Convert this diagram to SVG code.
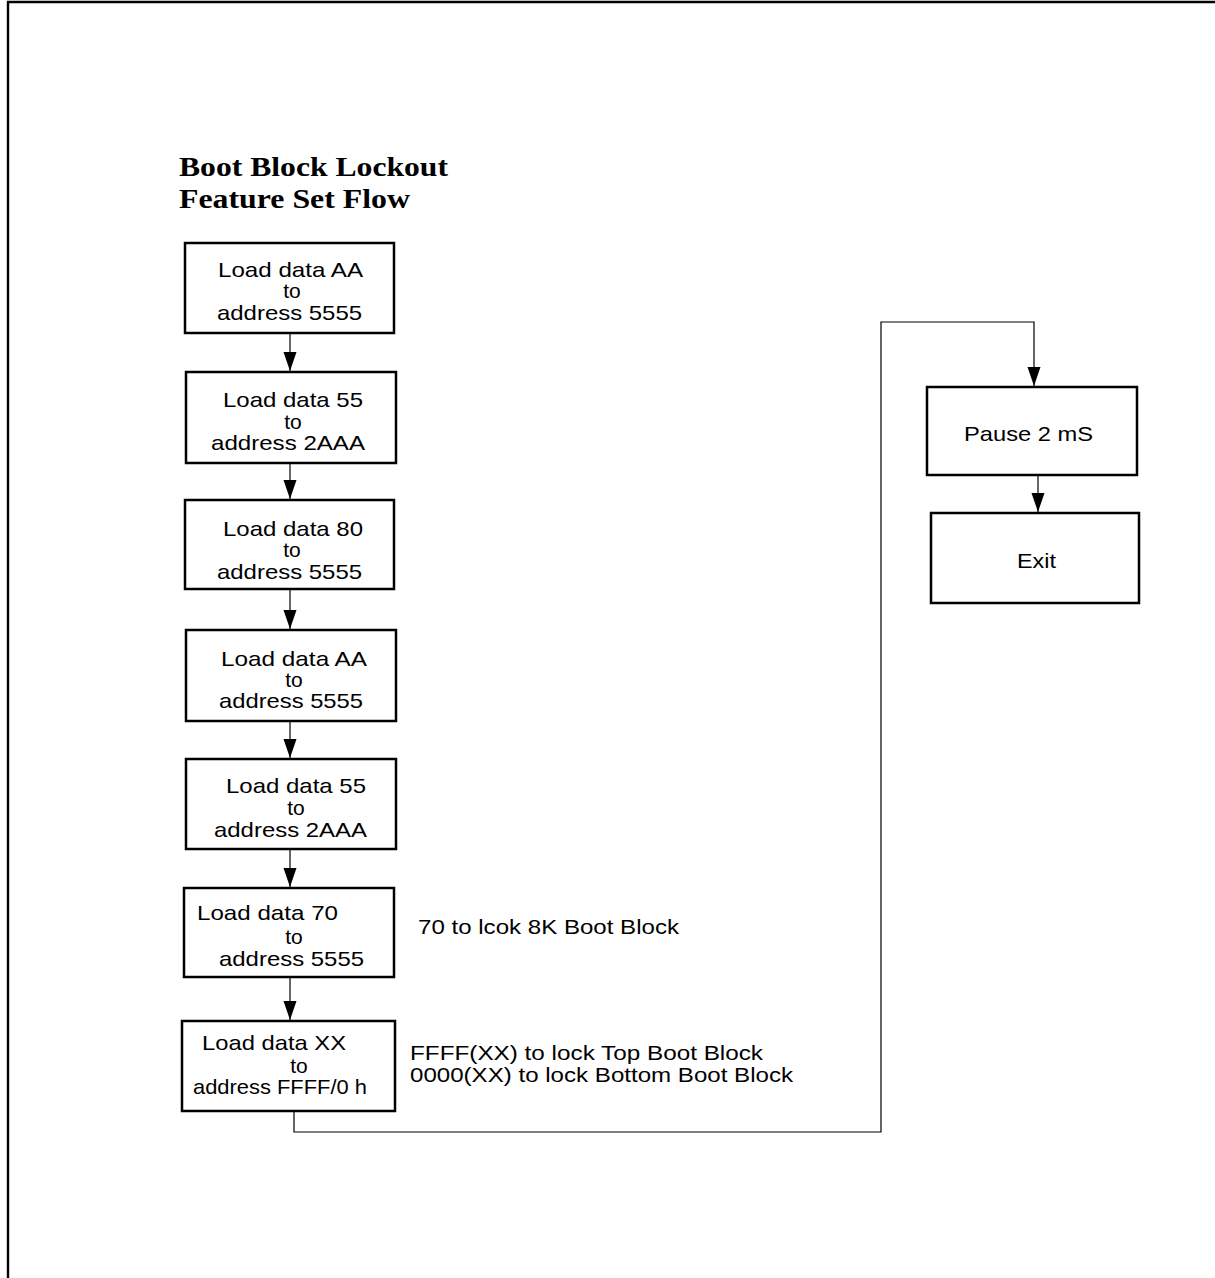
<svg xmlns="http://www.w3.org/2000/svg" width="1215" height="1278" viewBox="0 0 1215 1278">
<style>
.box{fill:#fff;stroke:#000;stroke-width:2.5}
.t{font-family:"Liberation Sans",Arial,sans-serif;font-size:21px;fill:#000}
.title{font-family:"Liberation Serif","Times New Roman",serif;font-size:28px;font-weight:bold;fill:#000}
.c{fill:none;stroke:#000;stroke-width:1.2}
</style>
<defs>
<marker id="ahd" markerUnits="userSpaceOnUse" markerWidth="20" markerHeight="14" refX="19" refY="7" orient="auto" viewBox="0 0 20 14">
<path d="M0,0.5 L19,7 L0,13.5 Z" fill="#000"/>
</marker>
</defs>
<rect width="1215" height="1278" fill="#fff"/>
<path d="M8,1278 V2 H1215" fill="none" stroke="#000" stroke-width="2.4"/>
<g id="title">
<text class="title" x="179" y="176" textLength="269" lengthAdjust="spacingAndGlyphs">Boot Block Lockout</text>
<text class="title" x="179" y="208" textLength="231" lengthAdjust="spacingAndGlyphs">Feature Set Flow</text>
</g>
<g id="connectors">
<line class="c" x1="290" y1="333" x2="290" y2="371" marker-end="url(#ahd)"/>
<line class="c" x1="290" y1="463" x2="290" y2="499" marker-end="url(#ahd)"/>
<line class="c" x1="290" y1="589" x2="290" y2="629" marker-end="url(#ahd)"/>
<line class="c" x1="290" y1="721" x2="290" y2="758" marker-end="url(#ahd)"/>
<line class="c" x1="290" y1="849" x2="290" y2="887" marker-end="url(#ahd)"/>
<line class="c" x1="290" y1="977" x2="290" y2="1020" marker-end="url(#ahd)"/>
<path class="c" d="M294,1111 V1132 H881 V322 H1034 V386" marker-end="url(#ahd)"/>
<line class="c" x1="1038" y1="475" x2="1038" y2="512" marker-end="url(#ahd)"/>
</g>
<g id="n1">
<rect class="box" x="185" y="243" width="209" height="90"/>
<text class="t" x="218" y="277" textLength="145" lengthAdjust="spacingAndGlyphs">Load data AA</text>
<text class="t" x="292" y="298" text-anchor="middle">to</text>
<text class="t" x="217" y="320" textLength="145" lengthAdjust="spacingAndGlyphs">address 5555</text>
</g>
<g id="n2">
<rect class="box" x="186" y="372" width="210" height="91"/>
<text class="t" x="223" y="407" textLength="140" lengthAdjust="spacingAndGlyphs">Load data 55</text>
<text class="t" x="293" y="429" text-anchor="middle">to</text>
<text class="t" x="211" y="450" textLength="154" lengthAdjust="spacingAndGlyphs">address 2AAA</text>
</g>
<g id="n3">
<rect class="box" x="185" y="500" width="209" height="89"/>
<text class="t" x="223" y="536" textLength="140" lengthAdjust="spacingAndGlyphs">Load data 80</text>
<text class="t" x="292" y="557" text-anchor="middle">to</text>
<text class="t" x="217" y="579" textLength="145" lengthAdjust="spacingAndGlyphs">address 5555</text>
</g>
<g id="n4">
<rect class="box" x="186" y="630" width="210" height="91"/>
<text class="t" x="221" y="666" textLength="146" lengthAdjust="spacingAndGlyphs">Load data AA</text>
<text class="t" x="294" y="687" text-anchor="middle">to</text>
<text class="t" x="219" y="708" textLength="144" lengthAdjust="spacingAndGlyphs">address 5555</text>
</g>
<g id="n5">
<rect class="box" x="186" y="759" width="210" height="90"/>
<text class="t" x="226" y="793" textLength="140" lengthAdjust="spacingAndGlyphs">Load data 55</text>
<text class="t" x="296" y="815" text-anchor="middle">to</text>
<text class="t" x="214" y="837" textLength="153" lengthAdjust="spacingAndGlyphs">address 2AAA</text>
</g>
<g id="n6">
<rect class="box" x="184" y="888" width="210" height="89"/>
<text class="t" x="197" y="920" textLength="141" lengthAdjust="spacingAndGlyphs">Load data 70</text>
<text class="t" x="294" y="944" text-anchor="middle">to</text>
<text class="t" x="219" y="966" textLength="145" lengthAdjust="spacingAndGlyphs">address 5555</text>
</g>
<g id="n7">
<rect class="box" x="182" y="1021" width="213" height="90"/>
<text class="t" x="202" y="1050" textLength="144" lengthAdjust="spacingAndGlyphs">Load data XX</text>
<text class="t" x="299" y="1073" text-anchor="middle">to</text>
<text class="t" x="193" y="1094" textLength="174" lengthAdjust="spacingAndGlyphs">address FFFF/0 h</text>
</g>
<g id="note1">
<text class="t" x="418" y="934" textLength="261" lengthAdjust="spacingAndGlyphs">70 to lcok 8K Boot Block</text>
</g>
<g id="note2">
<text class="t" x="410" y="1060" textLength="353" lengthAdjust="spacingAndGlyphs">FFFF(XX) to lock Top Boot Block</text>
<text class="t" x="410" y="1082" textLength="383" lengthAdjust="spacingAndGlyphs">0000(XX) to lock Bottom Boot Block</text>
</g>
<g id="pause">
<rect class="box" x="927" y="387" width="210" height="88"/>
<text class="t" x="964" y="441" textLength="129" lengthAdjust="spacingAndGlyphs">Pause 2 mS</text>
</g>
<g id="exit">
<rect class="box" x="931" y="513" width="208" height="90"/>
<text class="t" x="1017" y="568" textLength="39" lengthAdjust="spacingAndGlyphs">Exit</text>
</g>
</svg>
